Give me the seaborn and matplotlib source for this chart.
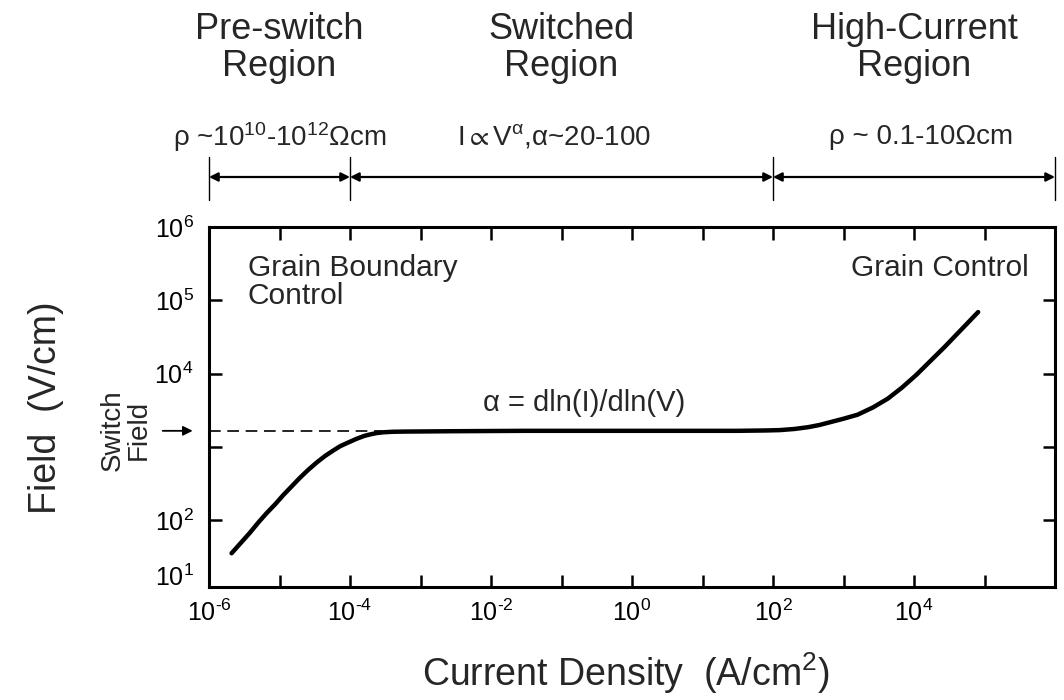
import numpy as np
import pandas as pd
import matplotlib
matplotlib.use("Agg")
import matplotlib.pyplot as plt
import seaborn as sns
from matplotlib.transforms import blended_transform_factory

# ---- data (log10 units) ----
log_current = [-5.68, -5.55, -5.42, -5.30, -5.18, -5.06, -4.95, -4.83, -4.71, -4.59,
               -4.47, -4.35, -4.24, -4.14, -4.05, -3.91, -3.80, -3.72, -3.62, -3.53,
               -3.40, -3.2, -2.5, -1.5, -0.5, 0.5, 1.5, 1.9, 2.1, 2.3,
               2.5, 2.66, 2.82, 3.0, 3.2, 3.42, 3.63, 3.83, 4.03, 4.23,
               4.43, 4.67, 4.91]
log_field = [1.55, 1.69, 1.83, 1.97, 2.10, 2.22, 2.34, 2.46, 2.58, 2.69,
             2.79, 2.88, 2.95, 3.01, 3.05, 3.11, 3.15, 3.17, 3.19, 3.20,
             3.207, 3.21, 3.215, 3.22, 3.22, 3.22, 3.22, 3.225, 3.23, 3.245,
             3.27, 3.30, 3.34, 3.385, 3.44, 3.54, 3.66, 3.81, 3.98, 4.17,
             4.36, 4.60, 4.84]
switch_field_log = 3.22
dash_end_log = -3.55

region_bounds = [1e-6, 1e-4, 1e2, 1e6]
region_titles = ["Pre-switch\nRegion", "Switched\nRegion", "High-Current\nRegion"]
region_title_x = [1e-5, 1e-1, 1e4]
region_notes = [r"ρ ~10$^{10}$-10$^{12}$Ωcm", r"I$\propto$V$^{\alpha}$,α~20-100", r"ρ ~ 0.1-10Ωcm"]
region_note_x = [1e-5, 10**-1.1, 10**4.1]

xtick_exps = list(range(-6, 7))
xtick_labels = [r"$10^{\text{%d}}$" % e if (e % 2 == 0 and e < 6) else "" for e in xtick_exps]
ytick_vals = [10**1.25, 1e2, 1e3, 1e4, 1e5, 1e6]
ytick_labels = [r"$10^{1}$", r"$10^{2}$", "", r"$10^{4}$", r"$10^{5}$", r"$10^{6}$"]

df = pd.DataFrame({"current": 10.0 ** np.array(log_current),
                   "field": 10.0 ** np.array(log_field)})

# ---- style ----
sns.set_theme(style="ticks")
plt.rcParams["font.family"] = ["Liberation Sans", "DejaVu Sans"]
plt.rcParams["mathtext.fontset"] = "custom"
plt.rcParams["mathtext.rm"] = "Liberation Sans"
plt.rcParams["mathtext.it"] = "Liberation Sans:italic"
plt.rcParams["mathtext.default"] = "regular"
plt.rcParams["axes.unicode_minus"] = False

fig = plt.figure(figsize=(10.64, 7.0), dpi=100)
ax = fig.add_axes([209 / 1064, 1 - 587 / 700, 846 / 1064, 360 / 700])

sns.lineplot(data=df, x="current", y="field", ax=ax, color="black", linewidth=3.2,
             solid_capstyle="round", solid_joinstyle="round", sort=False)

ax.set_xscale("log")
ax.set_yscale("log")
ax.set_xlim(1e-6, 1e6)
ax.set_ylim(10**1.09, 1e6)

ax.set_xticks([10.0**e for e in xtick_exps])
ax.set_xticklabels(xtick_labels)
ax.set_yticks(ytick_vals)
ax.set_yticklabels(ytick_labels)
ax.minorticks_off()
ax.tick_params(axis="both", which="major", direction="in", length=9, width=1.8,
               labelsize=18, colors="black")
ax.tick_params(axis="x", top=True, pad=9)
ax.tick_params(axis="y", right=True, pad=11)
for t in ax.yaxis.get_major_ticks():
    e = np.log10(t.get_loc())
    if abs(e - 1.25) < 1e-6 or abs(e - 6) < 1e-6:
        t.tick1line.set_visible(False)
        t.tick2line.set_visible(False)
for t in ax.xaxis.get_major_ticks():
    e = np.log10(t.get_loc())
    if abs(e + 6) < 1e-6 or abs(e - 6) < 1e-6:
        t.tick1line.set_visible(False)
        t.tick2line.set_visible(False)

for s in ax.spines.values():
    s.set_linewidth(2.2)
    s.set_color("black")

ax.set_xlabel("Current Density  (A/cm$^{2}$)", fontsize=27)
ax.set_ylabel("Field  (V/cm)", fontsize=27)
ax.xaxis.set_label_coords((626 - 209) / 846, (587 - 650) / 360)
ax.yaxis.set_label_coords((64 - 209) / 846, (587 - 408) / 360)

# switch field dashed line and arrow
ax.plot([1e-6, 10**dash_end_log], [10**switch_field_log] * 2, color="black",
        linewidth=1.2, dashes=(7, 4))
ax.annotate("", xy=(-0.016, 10**switch_field_log), xycoords=("axes fraction", "data"),
            xytext=(-0.058, 10**switch_field_log), textcoords=("axes fraction", "data"),
            arrowprops=dict(arrowstyle="-|>", color="black", lw=1.3, mutation_scale=14),
            annotation_clip=False)
fig.text(126 / 1064, 1 - 430 / 700, "Switch\nField", rotation=90, ha="center", va="center",
         fontsize=20, linespacing=1.0, multialignment="center")

# in-plot annotations
ax.text(0.046, 0.925, "Grain Boundary\nControl", transform=ax.transAxes, ha="left",
        va="top", fontsize=21.5, linespacing=1.0)
ax.text(0.969, 0.925, "Grain Control", transform=ax.transAxes, ha="right", va="top",
        fontsize=21.5)
ax.text(0.444, 0.51, "α = dln(I)/dln(V)", transform=ax.transAxes, ha="center",
        va="center", fontsize=21)

# region annotations above the plot
trans = blended_transform_factory(ax.transData, fig.transFigure)
for xb in region_bounds:
    ax.plot([xb, xb], [1 - 157 / 700, 1 - 200 / 700], transform=trans, color="black",
            linewidth=1.0, clip_on=False)
for a, b in zip(region_bounds[:-1], region_bounds[1:]):
    ax.annotate("", xy=(b, 1 - 177 / 700), xycoords=trans, xytext=(a, 1 - 177 / 700),
                textcoords=trans,
                arrowprops=dict(arrowstyle="<|-|>", color="black", lw=1.6,
                                mutation_scale=13, shrinkA=0, shrinkB=0),
                annotation_clip=False)
for x, t in zip(region_title_x, region_titles):
    ax.text(x, 1 - 12 / 700, t, transform=trans, ha="center", va="top", fontsize=26,
            linespacing=1.08)
for x, t in zip(region_note_x, region_notes):
    ax.text(x, 1 - 137 / 700, t, transform=trans, ha="center", va="center", fontsize=20)

fig.savefig("out.png", dpi=100)
